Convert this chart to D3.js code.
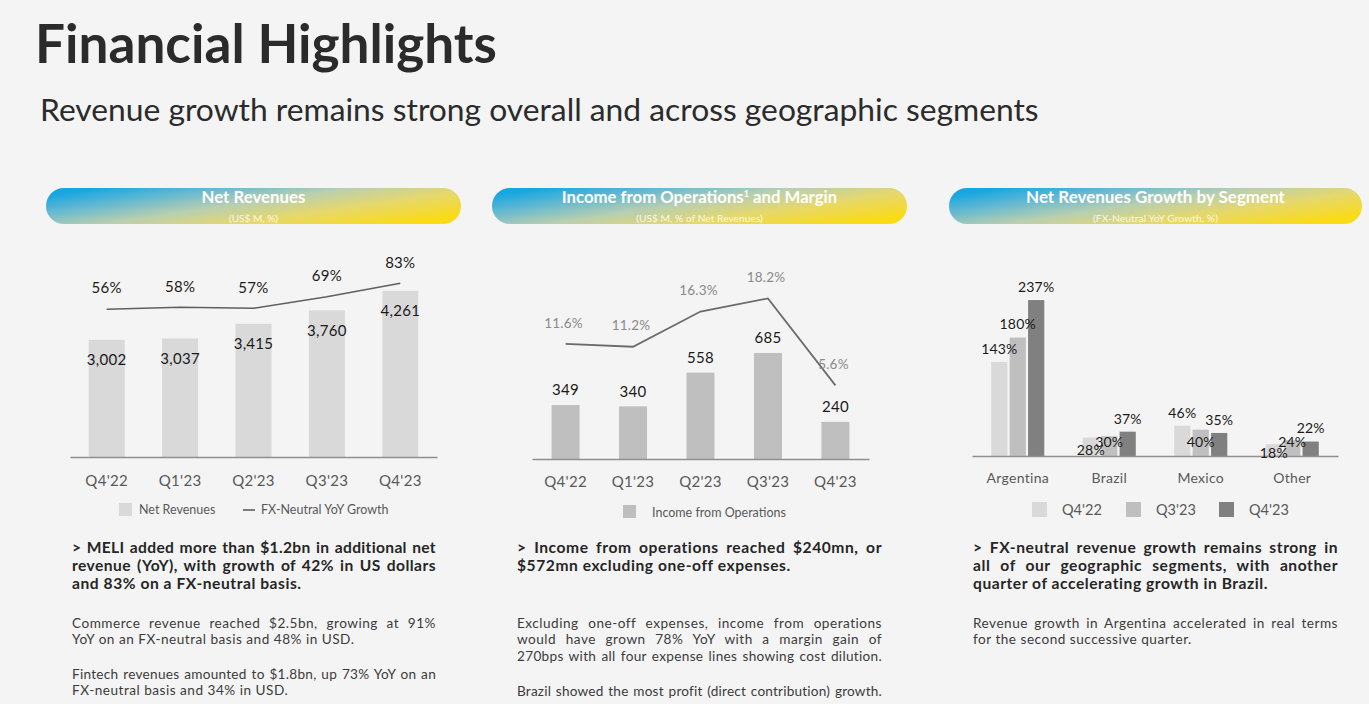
<!DOCTYPE html>
<html>
<head>
<meta charset="utf-8">
<script src="https://cdn.jsdelivr.net/npm/d3@7"></script>
<style>
  html, body { margin: 0; padding: 0; background: #f4f4f4; }
  body { width: 1369px; height: 704px; position: relative; overflow: hidden; font-family: Lato, "Open Sans", sans-serif; }
  svg { position: absolute; left: 0; top: 0; }
  .ln { position: absolute; white-space: nowrap; }
  .ln.j { text-align: justify; text-align-last: justify; }
  .ln.b { font-weight: 700; color: #262626; font-size: 15.6px; line-height: 18px; }
  .ln.r { font-weight: 400; color: #3b3b3b; font-size: 13.6px; line-height: 16px; }
</style>
</head>
<body>
<svg id="chart" width="1369" height="704"></svg>
<script>
// ---------------- DATA ----------------
const quarters = ["Q4'22", "Q1'23", "Q2'23", "Q3'23", "Q4'23"];
const netRevenues = [3002, 3037, 3415, 3760, 4261];
const fxNeutralGrowth = [56, 58, 57, 69, 83];
const incomeFromOps = [349, 340, 558, 685, 240];
const opMargin = [11.6, 11.2, 16.3, 18.2, 5.6];
const segments = ["Argentina", "Brazil", "Mexico", "Other"];
const segSeries = ["Q4'22", "Q3'23", "Q4'23"];
const segQ4_22 = [143, 28, 46, 18];
const segQ3_23 = [180, 30, 40, 24];
const segQ4_23 = [237, 37, 35, 22];

const pageTitle = "Financial Highlights";
const pageSubtitle = "Revenue growth remains strong overall and across geographic segments";
const panelTitles = ["Net Revenues", "Income from Operations", "Net Revenues Growth by Segment"];
const panelSubtitles = ["(US$ M, %)", "(US$ M, % of Net Revenues)", "(FX-Neutral YoY Growth, %)"];

// ---------------- SETUP ----------------
const svg = d3.select("#chart");
const FONT = "Lato, 'Open Sans', sans-serif";

function fit(sel, w) {
  const cur = sel.node().getComputedTextLength();
  const fs = parseFloat(sel.attr("font-size"));
  sel.attr("font-size", fs * w / cur);
}

// Title & subtitle
const t = svg.append("text").attr("x", 35).attr("y", 63).attr("font-family", FONT)
  .attr("font-weight", 700).attr("font-size", 50).attr("fill", "#2b2b2b").text(pageTitle);
fit(t, 462);
const st = svg.append("text").attr("x", 40).attr("y", 121).attr("font-family", FONT)
  .attr("font-weight", 400).attr("font-size", 28).attr("fill", "#2b2b2b").text(pageSubtitle);
fit(st, 999);

// Banners
const defs = svg.append("defs");
const grad = defs.append("linearGradient").attr("id", "bannerGrad")
  .attr("x1", 0).attr("y1", 0.2).attr("x2", 1).attr("y2", 0.8);
grad.append("stop").attr("offset", 0).attr("stop-color", "#16a6e1");
grad.append("stop").attr("offset", 0.2).attr("stop-color", "#5fb7d3");
grad.append("stop").attr("offset", 0.45).attr("stop-color", "#b9cfb0");
grad.append("stop").attr("offset", 0.7).attr("stop-color", "#e7d86a");
grad.append("stop").attr("offset", 1).attr("stop-color", "#fbdb12");

const bannerX = [[46, 461], [492, 907], [949, 1362]];
const titleWidths = [104, 276, 259];
const subWidths = [49, 127, 125];
bannerX.forEach((bx, i) => {
  const g = svg.append("g");
  g.append("rect").attr("x", bx[0]).attr("y", 188).attr("width", bx[1] - bx[0]).attr("height", 36)
    .attr("rx", 18).attr("fill", "url(#bannerGrad)");
  const cx = (bx[0] + bx[1]) / 2;
  const tt = g.append("text").attr("x", cx).attr("y", 203).attr("text-anchor", "middle")
    .attr("font-family", FONT).attr("font-weight", 700).attr("font-size", 16).attr("fill", "#ffffff");
  if (i === 1) {
    tt.append("tspan").text("Income from Operations");
    tt.append("tspan").attr("font-size", 9).attr("dy", -6).text("1");
    tt.append("tspan").attr("dy", 6).text(" and Margin");
  } else {
    tt.text(panelTitles[i]);
  }
  fit(tt, titleWidths[i]);
  const sub = g.append("text").attr("x", cx).attr("y", 222).attr("text-anchor", "middle")
    .attr("font-family", FONT).attr("font-size", 9).attr("fill", "#ffffff").attr("fill-opacity", 0.85)
    .text(panelSubtitles[i]);
  fit(sub, subWidths[i]);
});

function styleAxis(g) {
  g.select(".domain").attr("stroke", "#8f8f8f").attr("stroke-width", 1.6);
  g.selectAll(".tick line").remove();
  g.selectAll(".tick text").attr("fill", "#595959").attr("font-family", FONT).attr("letter-spacing", 0.3);
}

// ---------------- CHART 1: Net Revenues ----------------
{
  const base = 457;
  const x = d3.scaleBand().domain(quarters).range([70, 437]).paddingInner(0.51).paddingOuter(0.255);
  const y = d3.scaleLinear().domain([0, 5000]).range([base, 262]);
  const yl = d3.scaleLinear().domain([0, 100]).range([363, 267]);
  const g = svg.append("g");
  const data = quarters.map((q, i) => ({ q, v: netRevenues[i], p: fxNeutralGrowth[i] }));
  g.selectAll("rect.bar").data(data).join("rect").attr("class", "bar")
    .attr("x", d => x(d.q)).attr("width", x.bandwidth())
    .attr("y", d => y(d.v)).attr("height", d => base - y(d.v)).attr("fill", "#d9d9d9");
  const ax = g.append("g").attr("transform", `translate(0,${base})`)
    .call(d3.axisBottom(x).tickSize(0).tickPadding(18));
  ax.selectAll(".tick text").attr("font-size", 15);
  styleAxis(ax);
  g.append("path").datum(data)
    .attr("d", d3.line().x(d => x(d.q) + x.bandwidth() / 2).y(d => yl(d.p)))
    .attr("fill", "none").attr("stroke", "#5f5f5f").attr("stroke-width", 1.6);
  g.selectAll("text.val").data(data).join("text").attr("class", "val")
    .attr("x", d => x(d.q) + x.bandwidth() / 2).attr("y", d => y(d.v) + 20).attr("dy", "0.35em")
    .attr("text-anchor", "middle").attr("font-family", FONT).attr("font-size", 15).attr("fill", "#1a1a1a")
    .attr("letter-spacing", 0.3).text(d => d3.format(",")(d.v));
  g.selectAll("text.pct").data(data).join("text").attr("class", "pct")
    .attr("x", d => x(d.q) + x.bandwidth() / 2).attr("y", d => yl(d.p) - 21).attr("dy", "0.35em")
    .attr("text-anchor", "middle").attr("font-family", FONT).attr("font-size", 15).attr("fill", "#1a1a1a")
    .attr("letter-spacing", 0.3).text(d => d.p + "%");
  // legend
  g.append("rect").attr("x", 119).attr("y", 503).attr("width", 13).attr("height", 13).attr("fill", "#d9d9d9");
  g.append("text").attr("x", 139).attr("y", 510).attr("dy", "0.35em").attr("font-family", FONT)
    .attr("font-size", 12.5).attr("fill", "#595959").text("Net Revenues");
  g.append("line").attr("x1", 243).attr("x2", 255).attr("y1", 510).attr("y2", 510)
    .attr("stroke", "#5f5f5f").attr("stroke-width", 1.6);
  g.append("text").attr("x", 261).attr("y", 510).attr("dy", "0.35em").attr("font-family", FONT)
    .attr("font-size", 12.5).attr("fill", "#595959").text("FX-Neutral YoY Growth");
}

// ---------------- CHART 2: Income from Operations ----------------
{
  const base = 459;
  const x = d3.scaleBand().domain(quarters).range([532, 869]).paddingInner(0.585).paddingOuter(0.29);
  const y = d3.scaleLinear().domain([0, 800]).range([base, 335.2]);
  const yl = d3.scaleLinear().domain([0, 20]).range([424, 286]);
  const g = svg.append("g");
  const data = quarters.map((q, i) => ({ q, v: incomeFromOps[i], p: opMargin[i] }));
  g.selectAll("rect.bar").data(data).join("rect").attr("class", "bar")
    .attr("x", d => x(d.q)).attr("width", x.bandwidth())
    .attr("y", d => y(d.v)).attr("height", d => base - y(d.v)).attr("fill", "#bfbfbf");
  const ax = g.append("g").attr("transform", `translate(0,${base})`)
    .call(d3.axisBottom(x).tickSize(0).tickPadding(17));
  ax.selectAll(".tick text").attr("font-size", 15);
  styleAxis(ax);
  g.append("path").datum(data)
    .attr("d", d3.line().x(d => x(d.q) + x.bandwidth() / 2).y(d => yl(d.p)))
    .attr("fill", "none").attr("stroke", "#6b6b6b").attr("stroke-width", 1.8);
  g.selectAll("text.val").data(data).join("text").attr("class", "val")
    .attr("x", d => x(d.q) + x.bandwidth() / 2).attr("y", d => y(d.v) - 15).attr("dy", "0.35em")
    .attr("text-anchor", "middle").attr("font-family", FONT).attr("font-size", 15).attr("fill", "#1a1a1a")
    .attr("letter-spacing", 0.3).text(d => d.v);
  g.selectAll("text.pct").data(data).join("text").attr("class", "pct")
    .attr("x", d => x(d.q) + x.bandwidth() / 2 - 2).attr("y", d => yl(d.p) - 21).attr("dy", "0.35em")
    .attr("text-anchor", "middle").attr("font-family", FONT).attr("font-size", 13.5).attr("fill", "#8a8a8a")
    .attr("letter-spacing", 0.2).text(d => d.p.toFixed(1) + "%");
  g.append("rect").attr("x", 623).attr("y", 505).attr("width", 13).attr("height", 13).attr("fill", "#bfbfbf");
  g.append("text").attr("x", 652).attr("y", 513).attr("dy", "0.35em").attr("font-family", FONT)
    .attr("font-size", 12.5).attr("fill", "#595959").text("Income from Operations");
}

// ---------------- CHART 3: Growth by Segment ----------------
{
  const base = 456;
  const x0 = d3.scaleBand().domain(segments).range([972, 1338]).paddingInner(0.42).paddingOuter(0.21);
  const x1 = d3.scaleBand().domain(segSeries).range([0, x0.bandwidth()]).paddingInner(0.12);
  const y = d3.scaleLinear().domain([0, 250]).range([base, 291.5]);
  const color = d3.scaleOrdinal().domain(segSeries).range(["#d9d9d9", "#bfbfbf", "#808080"]);
  const seriesVals = [segQ4_22, segQ3_23, segQ4_23];
  const data = [];
  segments.forEach((s, i) => segSeries.forEach((k, j) => data.push({ s, k, v: seriesVals[j][i] })));
  const g = svg.append("g");
  g.selectAll("rect.bar").data(data).join("rect").attr("class", "bar")
    .attr("x", d => x0(d.s) + x1(d.k)).attr("width", x1.bandwidth())
    .attr("y", d => y(d.v)).attr("height", d => base - y(d.v)).attr("fill", d => color(d.k));
  const ax = g.append("g").attr("transform", `translate(0,${base})`)
    .call(d3.axisBottom(x0).tickSize(0).tickPadding(17));
  ax.selectAll(".tick text").attr("font-size", 14);
  styleAxis(ax);
  // labels that sit low (overlapping small bars, as in the source slide), relative to the baseline
  const lowLabel = { "Brazil|Q4'22": 6, "Brazil|Q3'23": 14, "Mexico|Q3'23": 14, "Other|Q4'22": 3, "Other|Q3'23": 14 };
  g.selectAll("text.val").data(data).join("text").attr("class", "val")
    .attr("x", d => x0(d.s) + x1(d.k) + x1.bandwidth() / 2)
    .attr("y", d => lowLabel[d.s + "|" + d.k] !== undefined ? base - lowLabel[d.s + "|" + d.k] : y(d.v) - 13)
    .attr("dy", "0.35em").attr("text-anchor", "middle").attr("font-family", FONT)
    .attr("font-size", 14).attr("fill", "#1a1a1a").attr("letter-spacing", 0.2).text(d => d.v + "%");
  const lx = [1032, 1126, 1219];
  segSeries.forEach((k, j) => {
    g.append("rect").attr("x", lx[j]).attr("y", 502).attr("width", 15).attr("height", 15).attr("fill", color(k));
    g.append("text").attr("x", lx[j] + 30).attr("y", 510).attr("dy", "0.35em").attr("font-family", FONT)
      .attr("font-size", 14.5).attr("fill", "#595959").text(k);
  });
}

// ---------------- TEXT BLOCKS ----------------
const blocks = [
  { x: 72, w: 364, lines: [
    ["b", 547, "> MELI added more than $1.2bn in additional net", true],
    ["b", 565, "revenue (YoY), with growth of 42% in US dollars", true],
    ["b", 583, "and 83% on a FX-neutral basis.", false],
    ["r", 623, "Commerce revenue reached $2.5bn, growing at 91%", true],
    ["r", 639, "YoY on an FX-neutral basis and 48% in USD.", false],
    ["r", 674, "Fintech revenues amounted to $1.8bn, up 73% YoY on an", true],
    ["r", 690, "FX-neutral basis and 34% in USD.", false]
  ]},
  { x: 517, w: 365, lines: [
    ["b", 547, "> Income from operations reached $240mn, or", true],
    ["b", 565, "$572mn excluding one-off expenses.", false],
    ["r", 623, "Excluding one-off expenses, income from operations", true],
    ["r", 639, "would have grown 78% YoY with a margin gain of", true],
    ["r", 656, "270bps with all four expense lines showing cost dilution.", true],
    ["r", 691, "Brazil showed the most profit (direct contribution) growth.", true]
  ]},
  { x: 973, w: 365, lines: [
    ["b", 547, "> FX-neutral revenue growth remains strong in", true],
    ["b", 565, "all of our geographic segments, with another", true],
    ["b", 583, "quarter of accelerating growth in Brazil.", false],
    ["r", 623, "Revenue growth in Argentina accelerated in real terms", true],
    ["r", 639, "for the second successive quarter.", false]
  ]}
];
blocks.forEach(b => {
  b.lines.forEach(([cls, cy, txt, just]) => {
    const lh = cls === "b" ? 18 : 16;
    const maxLs = cls === "b" ? 0.55 : 0.5;
    const div = d3.select("body").append("div").attr("class", "ln " + cls)
      .style("left", b.x + "px").style("top", (cy - lh / 2) + "px").text(txt);
    if (just) {
      const natural = div.node().getBoundingClientRect().width;
      const slack = b.w - natural;
      const ls = Math.max(0, Math.min(maxLs, slack * 0.6 / txt.length));
      div.style("letter-spacing", ls + "px").classed("j", true).style("width", b.w + "px");
    } else {
      div.style("letter-spacing", maxLs + "px");
    }
  });
});
</script>
</body>
</html>
